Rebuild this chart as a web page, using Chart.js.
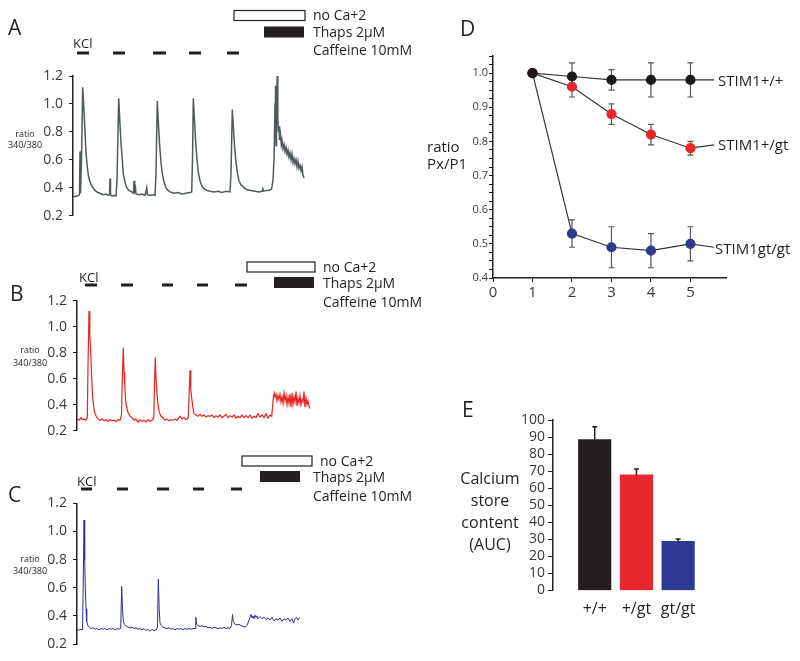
<!DOCTYPE html>
<html>
<head>
<meta charset="utf-8">
<script src="https://cdn.jsdelivr.net/npm/chart.js@4.4.1/dist/chart.umd.min.js"></script>
<style>
  body { margin: 0; width: 800px; height: 661px; background: #fff; position: relative; overflow: hidden;
         font-family: 'Open Sans', sans-serif; color: #231f20; }
  canvas { position: absolute; }
  .t { position: absolute; white-space: nowrap; line-height: 1; transform: translateY(-50%); }
  .c { position: absolute; white-space: nowrap; line-height: 1; transform: translate(-50%, -50%); }
  .letter { font-size: 21px; }
  .kcl { font-size: 13px; }
  .small { font-size: 9px; }
  .proto { font-size: 14px; }
  .lab { font-size: 15px; }
  .lab16 { font-size: 16px; }
</style>
</head>
<body>
<canvas id="chartA" width="420" height="230" style="left:0;top:0"></canvas>
<canvas id="chartB" width="420" height="215" style="left:0;top:230px"></canvas>
<canvas id="chartC" width="420" height="216" style="left:0;top:445px"></canvas>
<canvas id="chartD" width="380" height="310" style="left:420px;top:0"></canvas>
<canvas id="chartE" width="300" height="230" style="left:420px;top:400px"></canvas>

<!-- panel A texts -->
<div class="t letter" style="left:8px;top:27px">A</div>
<div class="t kcl" style="left:73px;top:43px">KCl</div>
<div class="c small" style="left:25px;top:133px">ratio</div>
<div class="c small" style="left:25px;top:144px">340/380</div>
<div class="t proto" style="left:313px;top:15px">no Ca+2</div>
<div class="t proto" style="left:313px;top:32px">Thaps 2µM</div>
<div class="t proto" style="left:313px;top:50px">Caffeine 10mM</div>

<!-- panel B texts -->
<div class="t letter" style="left:10px;top:293px">B</div>
<div class="t kcl" style="left:79px;top:277px">KCl</div>
<div class="c small" style="left:30px;top:349px">ratio</div>
<div class="c small" style="left:30px;top:362px">340/380</div>
<div class="t proto" style="left:323px;top:267px">no Ca+2</div>
<div class="t proto" style="left:323px;top:283px">Thaps 2µM</div>
<div class="t proto" style="left:323px;top:302px">Caffeine 10mM</div>

<!-- panel C texts -->
<div class="t letter" style="left:8px;top:494px">C</div>
<div class="t kcl" style="left:77px;top:481px">KCl</div>
<div class="c small" style="left:30px;top:558px">ratio</div>
<div class="c small" style="left:30px;top:570px">340/380</div>
<div class="t proto" style="left:320px;top:461px">no Ca+2</div>
<div class="t proto" style="left:313px;top:477px">Thaps 2µM</div>
<div class="t proto" style="left:313px;top:496px">Caffeine 10mM</div>

<!-- panel D texts -->
<div class="t letter" style="left:460px;top:28px">D</div>
<div class="t lab" style="left:427px;top:146px">ratio</div>
<div class="t lab" style="left:427px;top:163px">Px/P1</div>
<div class="t lab" style="left:718px;top:80px">STIM1+/+</div>
<div class="t lab" style="left:718px;top:144px">STIM1+/gt</div>
<div class="t lab" style="left:715px;top:248px">STIM1gt/gt</div>

<!-- panel E texts -->
<div class="t letter" style="left:462px;top:409px">E</div>
<div class="c lab16" style="left:490px;top:478px">Calcium</div>
<div class="c lab16" style="left:490px;top:500px">store</div>
<div class="c lab16" style="left:490px;top:522px">content</div>
<div class="c lab16" style="left:490px;top:544px">(AUC)</div>

<script>
// ---- traces (time in a.u., ratio 340/380) ----
const timeA = [0.3,2,4,5.5,6.5,7,7.5,8.5,9.7,11,
  12,13,14.3,15.5,17,19,22,25,27,30,
  33,35,36.5,37,37.5,39,41,43,44,45.7,
  47,48,49.3,50.3,52,53.7,56,58.7,60.5,61,
  61.7,62.3,63,66,69,72,73.7,74.3,77,80,
  82,83,84.3,85.5,86.5,88,89.3,91,93,95,
  97,101,105,109,113,117,118.7,119.5,120.3,121.5,
  122.5,124,125.5,127,129,131.5,134,137,141,145,
  149,153,157,158,159.3,160.5,161.5,163,164.5,166,
  168,171,174,178,182,186,189,189.7,190.3,193,
  196,198.5,200,201,202,202.5,203,203.5,204.2,204.8,
  205.4,206,206.6,207.5,208.3,209,210,211,212,213,
  214,215,216,217,218,219,220,221,222,223,
  224,225,226,227,228,229,230,231];
const ratioA = [0.34,0.335,0.34,0.345,0.35,0.66,0.36,0.6,1.12,0.95,
  0.8,0.65,0.55,0.48,0.44,0.41,0.38,0.365,0.36,0.35,
  0.355,0.345,0.35,0.465,0.35,0.34,0.345,0.34,0.45,1.04,
  0.85,0.72,0.6,0.5,0.44,0.4,0.38,0.37,0.36,0.45,
  0.36,0.42,0.355,0.35,0.355,0.345,0.40,0.35,0.345,0.35,
  0.345,0.5,1.02,0.85,0.72,0.58,0.5,0.44,0.4,0.38,
  0.37,0.36,0.365,0.355,0.36,0.365,0.37,0.6,1.04,0.88,
  0.74,0.6,0.5,0.45,0.41,0.39,0.38,0.375,0.37,0.375,
  0.365,0.375,0.37,0.5,0.96,0.82,0.7,0.58,0.5,0.45,
  0.42,0.4,0.385,0.38,0.375,0.37,0.375,0.40,0.375,0.38,
  0.38,0.39,0.45,0.6,1.0,1.13,0.7,0.9,1.20,0.9,
  0.8,0.84,0.74,0.78,0.71,0.74,0.68,0.71,0.66,0.69,
  0.64,0.67,0.62,0.65,0.6,0.64,0.58,0.61,0.57,0.6,
  0.55,0.59,0.54,0.56,0.52,0.55,0.49,0.47];

const timeB = [0,2,4,5,7,9,10.3,11,12,12.8,
  13.7,14.7,15.7,17,18,20,21.3,23,25,27,
  29,31,33,35,37,39,41,43,44.5,45.3,
  46.3,47,47.7,48.7,49.7,51,53,55,57,59,
  61,63,65,67,69,71,73,75,76.8,77.5,
  78.3,79,80,81,82.3,84,86.3,88,90,92,
  94,96,98,100,102,103,105,107,109,111.3,
  112.2,113,113.8,114.7,116,117,119,121,123,125,
  127,129,131,133,135,137,139,141,143,145,
  147,149,151,153,155,157,159,161,163,165,
  167,169,171,173,175,177,179,181,183,185,
  187,189,191,193,194.7,195.5,196.3,197.2,198,199,
  200,201,202,203,204,205,206,207,208,209,
  210,211,212,213,214,215,216,217,218,219,
  220,221,222,223,224,225,226,227,228,229,
  230,231,232,233];
const ratioB = [0.29,0.28,0.3,0.285,0.29,0.28,0.3,0.7,1.12,0.95,
  0.8,0.6,0.45,0.37,0.33,0.3,0.29,0.28,0.29,0.275,
  0.285,0.27,0.285,0.275,0.28,0.27,0.285,0.28,0.32,0.6,
  0.84,0.65,0.55,0.43,0.38,0.34,0.31,0.3,0.28,0.29,
  0.265,0.285,0.27,0.28,0.265,0.285,0.27,0.28,0.3,0.55,
  0.765,0.6,0.48,0.4,0.34,0.31,0.3,0.28,0.29,0.275,
  0.285,0.28,0.29,0.28,0.3,0.31,0.29,0.3,0.285,0.3,
  0.5,0.664,0.52,0.45,0.37,0.33,0.32,0.31,0.325,0.31,
  0.32,0.305,0.315,0.31,0.32,0.3,0.315,0.305,0.32,0.3,
  0.31,0.325,0.3,0.315,0.305,0.32,0.295,0.31,0.3,0.32,
  0.3,0.315,0.3,0.32,0.295,0.31,0.3,0.33,0.305,0.32,
  0.3,0.33,0.295,0.32,0.31,0.38,0.45,0.49,0.46,0.48,
  0.43,0.47,0.44,0.48,0.42,0.46,0.41,0.49,0.43,0.47,
  0.4,0.46,0.41,0.48,0.38,0.49,0.4,0.46,0.42,0.5,
  0.39,0.45,0.41,0.47,0.4,0.44,0.42,0.5,0.38,0.45,
  0.4,0.43,0.39,0.37];

const timeC = [0,2,4,5.5,6.2,7,7.7,8.3,9,9.7,
  11,12.3,14,16,18,20,22,24,26,28,
  30,32,34,36,38,40,42,43.7,44.7,45.5,
  46.3,47.5,49,51,53,55,57,59,61,63,
  65,67,69,71,73,75,77,79,80.5,81.3,
  82.2,83,84.5,85.7,88,90,92,94,96,98,
  100,102,104,106,108,110,112,114,116,118,
  118.8,119.5,121,123,125,127,129,131,133,135,
  137,139,141,143,145,147,149,151,153,154.5,
  155.5,156.3,158,160,162,164,166,168,169.7,171,
  172,173,174,175,176,177,178,179,180,181,
  183,185,187,189,191,193,195,197,199,201,
  203,205,207,209,211,213,215,216.5,218,219.5,221,223];
const ratioC = [0.3,0.3,0.305,0.3,0.6,1.08,0.8,0.6,0.45,0.36,
  0.33,0.32,0.31,0.315,0.305,0.31,0.3,0.31,0.305,0.31,
  0.3,0.31,0.305,0.31,0.3,0.31,0.305,0.31,0.61,0.45,
  0.36,0.34,0.33,0.32,0.315,0.32,0.31,0.315,0.305,0.31,
  0.3,0.31,0.295,0.305,0.29,0.305,0.295,0.3,0.32,0.66,
  0.45,0.35,0.33,0.32,0.315,0.31,0.315,0.305,0.31,0.3,
  0.31,0.305,0.31,0.3,0.31,0.305,0.31,0.305,0.31,0.31,
  0.39,0.34,0.33,0.325,0.33,0.32,0.325,0.315,0.32,0.31,
  0.32,0.315,0.31,0.315,0.31,0.32,0.31,0.315,0.31,0.33,
  0.41,0.36,0.34,0.335,0.34,0.33,0.325,0.32,0.33,0.35,
  0.37,0.39,0.41,0.385,0.4,0.38,0.405,0.39,0.4,0.38,
  0.395,0.38,0.39,0.375,0.385,0.37,0.39,0.365,0.38,0.37,
  0.385,0.36,0.38,0.37,0.385,0.36,0.38,0.35,0.38,0.39,0.37,0.39];

// treatment periods (same time units as the traces)
const kclA = [[4,16],[40,52],[80,93],[116,128],[154,166]];
const noCaA = [161,232], thapsA = [191,231];
const kclB = [[8,20],[44,56],[85,96],[120,131],[158,170]];
const noCaB = [170,238], thapsB = [197,237];
const kclC = [[4,15],[40,51],[80,92],[116,127],[154,165]];
const noCaC = [165,235], thapsC = [183,223];

// ---- panel D: peak ratio Px/P1 ----
const pulses = [1,2,3,4,5];
const wtMean = [1.00,0.99,0.98,0.98,0.98];
const wtErr  = [0,0.04,0.03,0.05,0.05];
const hetMean = [1.00,0.96,0.88,0.82,0.78];
const hetErr  = [0,0.03,0.03,0.03,0.02];
const homMean = [1.00,0.53,0.49,0.48,0.50];
const homErr  = [0,0.04,0.06,0.05,0.05];
const leaderX = 5.6;
const leaderY = [0.98, 0.79, 0.49];

// ---- panel E: calcium store content ----
const genotypes = ['+/+', '+/gt', 'gt/gt'];
const auc = [88.5, 67.8, 28.8];
const aucErr = [7.5, 3.5, 1.4];

Chart.defaults.font.family = "'Open Sans', sans-serif";
Chart.defaults.color = '#231f20';
Chart.defaults.animation = false;
Chart.defaults.plugins.legend.display = false;
Chart.defaults.plugins.tooltip.enabled = false;

const ink = '#231f20';

// draws KCl bars and the no Ca / thaps boxes above a trace
const protocolPlugin = {
  id: 'protocol',
  afterDraw(chart, args, opts) {
    const ctx = chart.ctx;
    const xs = chart.scales.x;
    ctx.save();
    ctx.fillStyle = ink;
    opts.kcl.forEach(([a, b]) => {
      const x1 = xs.getPixelForValue(a);
      const x2 = xs.getPixelForValue(b);
      ctx.fillRect(x1, opts.kclY - 1.5, x2 - x1, 3);
    });
    let x1 = xs.getPixelForValue(opts.noCa[0]);
    let x2 = xs.getPixelForValue(opts.noCa[1]);
    ctx.strokeStyle = ink;
    ctx.lineWidth = 1.2;
    ctx.strokeRect(x1, opts.noCaY, x2 - x1, 10);
    x1 = xs.getPixelForValue(opts.thaps[0]);
    x2 = xs.getPixelForValue(opts.thaps[1]);
    ctx.fillRect(x1, opts.thapsY, x2 - x1, 11);
    ctx.restore();
  }
};

function traceChart(id, t, r, color, width, xmax, axisW, pad, proto) {
  return new Chart(document.getElementById(id), {
    type: 'line',
    data: {
      datasets: [{
        data: t.map((x, i) => ({ x: x, y: r[i] })),
        borderColor: color,
        borderWidth: width,
        pointRadius: 0,
        tension: 0
      }]
    },
    options: {
      responsive: false,
      layout: { padding: pad },
      plugins: { protocol: proto },
      scales: {
        x: { type: 'linear', min: 0, max: xmax, display: false },
        y: {
          min: 0.2, max: 1.2,
          afterFit: (axis) => { axis.width = axisW; },
          border: { display: true, color: ink, width: 1.5 },
          grid: { drawOnChartArea: false, drawTicks: true, tickLength: 4, color: ink },
          ticks: { stepSize: 0.2, padding: 6, color: '#3a3a3a', font: { size: 14 },
                   callback: (v) => v.toFixed(1) }
        }
      }
    },
    plugins: [protocolPlugin]
  });
}

traceChart('chartA', timeA, ratioA, '#4f5a5c', 1.5, 232, 73,
  { top: 76, bottom: 12.3, left: 0, right: 115 },
  { kcl: kclA, kclY: 53, noCa: noCaA, noCaY: 10.5, thaps: thapsA, thapsY: 26.5 });

traceChart('chartB', timeB, ratioB, '#e52521', 1.2, 233, 77,
  { top: 70.7, bottom: 11.5, left: 0, right: 110 },
  { kcl: kclB, kclY: 55, noCa: noCaB, noCaY: 32, thaps: thapsB, thapsY: 47 });

traceChart('chartC', timeC, ratioC, '#2e3192', 1, 223, 77,
  { top: 58.3, bottom: 17, left: 0, right: 120 },
  { kcl: kclC, kclY: 44, noCa: noCaC, noCaY: 11, thaps: thapsC, thapsY: 26 });

// ---- D ----
const errorBarsD = {
  id: 'errorBarsD',
  beforeDatasetsDraw(chart, args, opts) {
    const ctx = chart.ctx;
    const xs = chart.scales.x, ys = chart.scales.y;
    ctx.save();
    ctx.strokeStyle = '#555';
    ctx.lineWidth = 1.2;
    opts.series.forEach(([means, errs]) => {
      pulses.forEach((p, i) => {
        if (!errs[i]) return;
        const x = xs.getPixelForValue(p);
        const yLo = ys.getPixelForValue(means[i] - errs[i]);
        const yHi = ys.getPixelForValue(means[i] + errs[i]);
        ctx.beginPath();
        ctx.moveTo(x, yLo); ctx.lineTo(x, yHi);
        ctx.moveTo(x - 3, yLo); ctx.lineTo(x + 3, yLo);
        ctx.moveTo(x - 3, yHi); ctx.lineTo(x + 3, yHi);
        ctx.stroke();
      });
    });
    ctx.restore();
  }
};

function seriesD(means, color, leader) {
  const pts = pulses.map((p, i) => ({ x: p, y: means[i] }));
  pts.push({ x: leaderX, y: leader });
  return {
    data: pts,
    borderColor: '#333',
    borderWidth: 1.2,
    pointRadius: (c) => c.dataIndex < pulses.length ? 4.5 : 0,
    pointBackgroundColor: color,
    pointBorderColor: color,
    tension: 0
  };
}

new Chart(document.getElementById('chartD'), {
  type: 'line',
  data: {
    datasets: [
      seriesD(wtMean, '#1a1a1a', leaderY[0]),
      seriesD(hetMean, '#e8262c', leaderY[1]),
      seriesD(homMean, '#2b3991', leaderY[2])
    ]
  },
  options: {
    responsive: false,
    layout: { padding: { top: 56, right: 74, bottom: 0, left: 0 } },
    plugins: { errorBarsD: { series: [[wtMean, wtErr], [hetMean, hetErr], [homMean, homErr]] } },
    scales: {
      x: {
        type: 'linear', min: 0, max: 5.9,
        afterFit: (axis) => { axis.height = 32; },
        border: { display: true, color: ink, width: 1.5 },
        grid: { drawOnChartArea: false, tickLength: 4, color: ink },
        ticks: { stepSize: 1, includeBounds: false, padding: 2, color: '#3a3a3a', font: { size: 15 },
                 callback: (v) => v <= 5 ? v : '' }
      },
      y: {
        min: 0.4, max: 1.05,
        afterFit: (axis) => { axis.width = 73; },
        border: { display: true, color: ink, width: 1.5 },
        grid: { drawOnChartArea: false, tickLength: 4, color: ink },
        ticks: { stepSize: 0.025, autoSkip: false, padding: 1, color: '#3a3a3a', font: { size: 11 },
                 callback: (v) => Math.abs(v * 10 - Math.round(v * 10)) < 1e-6 ? v.toFixed(1) : '' }
      }
    }
  },
  plugins: [errorBarsD]
});

// ---- E ----
const errorBarsE = {
  id: 'errorBarsE',
  afterDatasetsDraw(chart) {
    const ctx = chart.ctx;
    const xs = chart.scales.x, ys = chart.scales.y;
    ctx.save();
    ctx.strokeStyle = ink;
    ctx.lineWidth = 1.5;
    auc.forEach((v, i) => {
      const x = xs.getPixelForValue(i + 1);
      const y0 = ys.getPixelForValue(v);
      const y1 = ys.getPixelForValue(v + aucErr[i]);
      ctx.beginPath();
      ctx.moveTo(x, y0); ctx.lineTo(x, y1);
      ctx.moveTo(x - 2.5, y1); ctx.lineTo(x + 2.5, y1);
      ctx.stroke();
    });
    ctx.restore();
  }
};

new Chart(document.getElementById('chartE'), {
  type: 'bar',
  data: {
    datasets: [{
      data: genotypes.map((g, i) => ({ x: i + 1, y: auc[i] })),
      backgroundColor: ['#231f20', '#e8282e', '#2e3a92'],
      barThickness: 32.5
    }]
  },
  options: {
    responsive: false,
    layout: { padding: { top: 20, right: 21, bottom: 9.5, left: 0 } },
    scales: {
      x: {
        type: 'linear', min: 0, max: 3.5, offset: false,
        afterFit: (axis) => { axis.height = 30; },
        border: { display: false },
        grid: { display: false, offset: false, tickLength: 0 },
        ticks: { stepSize: 1, includeBounds: false, padding: 9, color: ink, font: { size: 16 },
                 callback: (v) => genotypes[v - 1] || '' }
      },
      y: {
        min: 0, max: 100,
        afterFit: (axis) => { axis.width = 133; },
        border: { display: true, color: ink, width: 1.5 },
        grid: { drawOnChartArea: false, tickLength: 5, color: ink },
        ticks: { stepSize: 10, autoSkip: false, padding: 3, color: '#3a3a3a', font: { size: 14 } }
      }
    }
  },
  plugins: [errorBarsE]
});
</script>
</body>
</html>
